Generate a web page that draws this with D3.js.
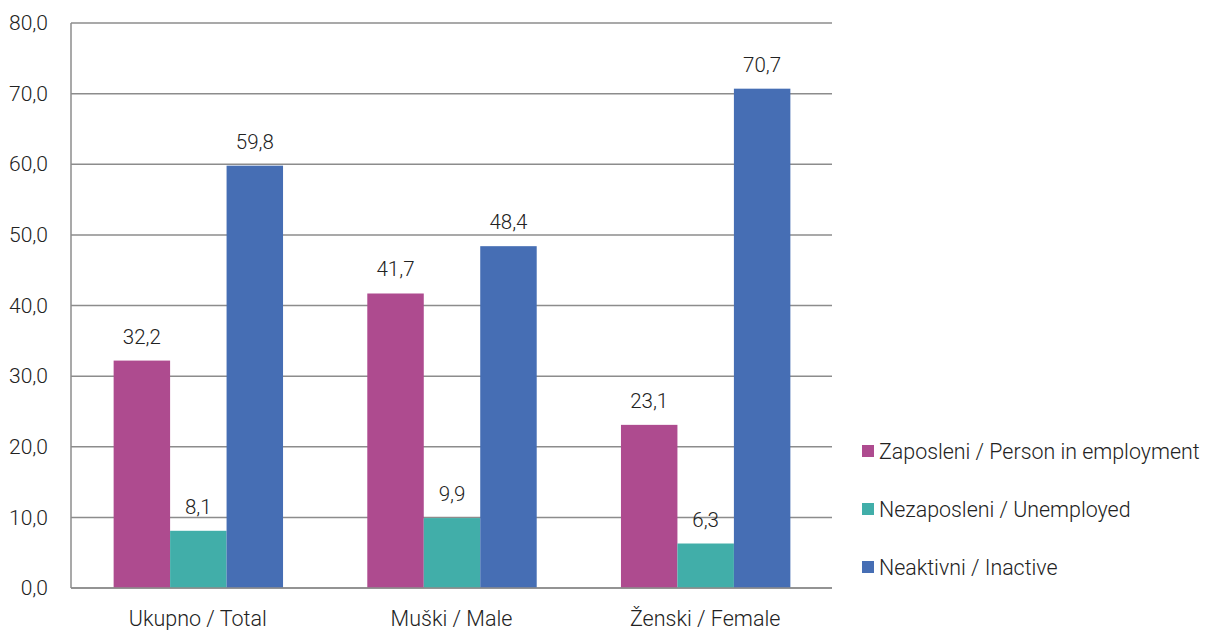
<!DOCTYPE html>
<html>
<head>
<meta charset="utf-8">
<script src="https://cdn.jsdelivr.net/npm/d3@7"></script>
<style>
  body { margin: 0; background: #fff; }
  text { font-family: Roboto, "Open Sans", sans-serif; font-weight: 300; fill: #222; }
</style>
</head>
<body>
<div id="vis"></div>
<script>
// chart data
var categories = ['Ukupno / Total', 'Muški / Male', 'Ženski / Female'];
var seriesNames = ['Zaposleni / Person in employment', 'Nezaposleni / Unemployed', 'Neaktivni / Inactive'];
var employed = [32.2, 41.7, 23.1];
var unemployed = [8.1, 9.9, 6.3];
var inactive = [59.8, 48.4, 70.7];
var yTicks = [0, 10, 20, 30, 40, 50, 60, 70, 80];
var colors = ['#ae4b8f', '#41aea9', '#466eb4'];

var width = 1210, height = 630;
var margin = { top: 23, left: 71, bottom: 42, right: 378 };

var series = [employed, unemployed, inactive];

var svg = d3.select('#vis').append('svg')
  .attr('width', width)
  .attr('height', height);

var x0 = d3.scaleBand()
  .domain(categories)
  .range([margin.left, width - margin.right])
  .paddingInner(0)
  .paddingOuter(0);

var x1 = d3.scaleBand()
  .domain(d3.range(series.length))
  .range([0, x0.bandwidth()])
  .paddingOuter(0.746)
  .paddingInner(0);

var y = d3.scaleLinear()
  .domain([0, 80])
  .range([height - margin.bottom, margin.top]);

// gridlines
svg.append('g')
  .selectAll('line')
  .data(yTicks)
  .enter().append('line')
  .attr('x1', margin.left)
  .attr('x2', width - margin.right)
  .attr('y1', function (d) { return y(d); })
  .attr('y2', function (d) { return y(d); })
  .attr('stroke', '#8c8c8c')
  .attr('stroke-width', 1.5);

// y axis labels
var yAxis = d3.axisLeft(y)
  .tickValues(yTicks)
  .tickSize(0)
  .tickPadding(23)
  .tickFormat(function (d) { return d3.format('.1f')(d).replace('.', ','); });

var yg = svg.append('g')
  .attr('transform', 'translate(' + margin.left + ',0)')
  .call(yAxis);
yg.select('.domain').remove();
yg.selectAll('text')
  .style('font-size', '21px')
  .style('font-family', 'Roboto, sans-serif')
  .style('font-weight', 300)
  .attr('fill', '#222');

// bars
var groups = svg.append('g')
  .selectAll('g')
  .data(categories)
  .enter().append('g')
  .attr('transform', function (d) { return 'translate(' + x0(d) + ',0)'; });

groups.selectAll('rect')
  .data(function (d, i) { return series.map(function (s, j) { return { s: j, v: s[i] }; }); })
  .enter().append('rect')
  .attr('x', function (d) { return x1(d.s) + 0.5; })
  .attr('width', x1.bandwidth())
  .attr('y', function (d) { return y(d.v); })
  .attr('height', function (d) { return y(0) - y(d.v); })
  .attr('fill', function (d) { return colors[d.s]; });

groups.selectAll('text.val')
  .data(function (d, i) { return series.map(function (s, j) { return { s: j, v: s[i] }; }); })
  .enter().append('text')
  .attr('class', 'val')
  .attr('x', function (d) { return x1(d.s) + x1.bandwidth() / 2 + 0.5; })
  .attr('y', function (d) { return y(d.v) - 17; })
  .attr('text-anchor', 'middle')
  .style('font-size', '20.5px')
  .text(function (d) { return d3.format('.1f')(d.v).replace('.', ','); });

// left axis line and baseline
svg.append('line')
  .attr('x1', margin.left).attr('x2', margin.left)
  .attr('y1', y(80)).attr('y2', y(0))
  .attr('stroke', '#8c8c8c').attr('stroke-width', 1.5);
svg.append('line')
  .attr('x1', margin.left).attr('x2', width - margin.right)
  .attr('y1', y(0)).attr('y2', y(0))
  .attr('stroke', '#8c8c8c').attr('stroke-width', 1.5);

// category labels
svg.append('g')
  .selectAll('text')
  .data(categories)
  .enter().append('text')
  .attr('x', function (d) { return x0(d) + x0.bandwidth() / 2; })
  .attr('y', 626)
  .attr('text-anchor', 'middle')
  .style('font-size', '21.5px')
  .text(function (d) { return d; });

// legend
var legend = svg.append('g')
  .selectAll('g')
  .data(seriesNames)
  .enter().append('g')
  .attr('transform', function (d, i) { return 'translate(862,' + (451 + i * 58) + ')'; });

legend.append('rect')
  .attr('x', 0).attr('y', -6)
  .attr('width', 12).attr('height', 12)
  .attr('fill', function (d, i) { return colors[i]; });

legend.append('text')
  .attr('x', 17)
  .attr('y', 0)
  .attr('dy', '0.35em')
  .style('font-size', '21.4px')
  .text(function (d) { return d; });
</script>
</body>
</html>
